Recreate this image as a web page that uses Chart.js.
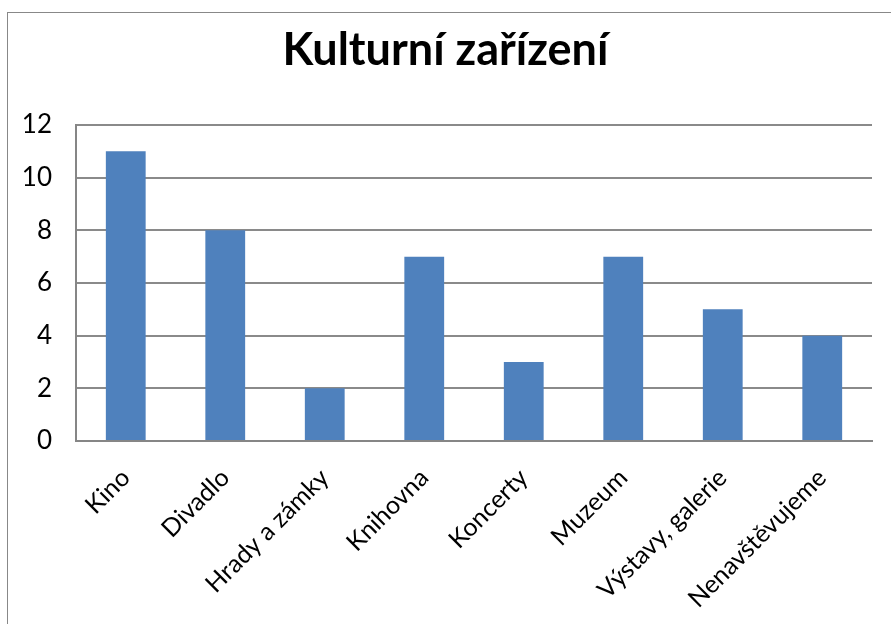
<!DOCTYPE html>
<html>
<head>
<meta charset="utf-8">
<script src="https://cdn.jsdelivr.net/npm/chart.js@4"></script>
<style>
    body { margin: 0; background: #fff; }
    .frame {
        position: absolute;
        left: 7px;
        top: 12px;
        width: 1000px;
        height: 1000px;
        border: 1px solid #888;
    }
    .wrap {
        position: absolute;
        left: 0;
        top: 0;
        width: 891px;
        height: 624px;
    }
</style>
</head>
<body>
<div class="frame"></div>
<div class="wrap"><canvas id="chart" width="891" height="624"></canvas></div>
<script>
// data
const categories = ['Kino', 'Divadlo', 'Hrady a zámky', 'Knihovna', 'Koncerty', 'Muzeum', 'Výstavy, galerie', 'Nenavštěvujeme'];
const counts = [11, 8, 2, 7, 3, 7, 5, 4];
const yMin = 0;
const yMax = 12;
const yStep = 2;

const ctx = document.getElementById('chart').getContext('2d');
new Chart(ctx, {
    type: 'bar',
    data: {
        labels: categories,
        datasets: [{
            data: counts,
            backgroundColor: '#4F81BD',
            categoryPercentage: 1,
            barPercentage: 0.4
        }]
    },
    options: {
        responsive: false,
        animation: false,
        // equal side padding keeps the title centred on the canvas
        layout: { padding: { left: 19, right: 19, top: 0, bottom: 0 } },
        plugins: {
            legend: { display: false },
            tooltip: { enabled: false },
            title: {
                display: true,
                text: 'Kulturní zařízení',
                color: '#000',
                font: { family: 'Lato', size: 45, weight: 'bold', lineHeight: 1.2 },
                padding: { top: 23, bottom: 48 }
            }
        },
        scales: {
            x: {
                grid: { display: false, drawTicks: false },
                border: { color: '#868686', width: 2 },
                ticks: {
                    color: '#000',
                    font: { family: 'Lato', size: 25 },
                    minRotation: 45,
                    maxRotation: 45,
                    padding: 22
                },
                afterFit: scale => { scale.height = 183; }
            },
            y: {
                min: yMin,
                max: yMax,
                grid: { color: '#8a8a8a', lineWidth: 2, drawTicks: false },
                border: { color: '#868686', width: 2 },
                ticks: {
                    stepSize: yStep,
                    color: '#000',
                    font: { family: 'Lato', size: 26 },
                    padding: 24
                },
                afterFit: scale => { scale.width = 57; }
            }
        }
    }
});
</script>
</body>
</html>
